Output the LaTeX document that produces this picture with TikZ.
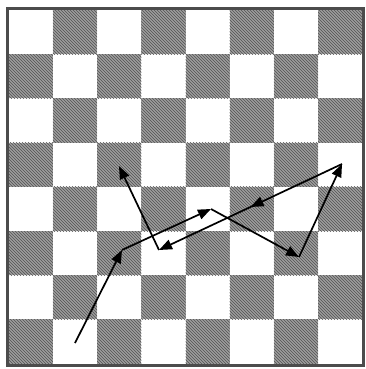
\documentclass[tikz,border=0pt]{standalone}
\usetikzlibrary{arrows.meta, patterns, decorations.markings}
\tikzstyle{dark} = [fill=black!38]
\tikzstyle{move} = [line width=1.7pt, -{Triangle[length=13pt,width=10pt]}]
\tikzstyle{midmove} = [move, postaction={decorate}, decoration={markings,
    mark=at position 0.5 with {\arrow{Triangle[length=13pt,width=10pt]}}}]

\begin{document}
\begin{tikzpicture}[x=1pt, y=-1pt]
        \useasboundingbox (0,0) rectangle (366,369);
        % board squares
        \foreach \c in {0,...,7} {
            \foreach \r in {0,...,7} {
                \pgfmathtruncatemacro{\odd}{mod(\c+\r,2)}
                \ifnum\odd=1
                    \fill[dark] (8.7+44.2*\c,10+44.2*\r) rectangle ++(44.2,44.2);
                    \fill[pattern=north west lines, pattern color=black!68]
                        (8.7+44.2*\c,10+44.2*\r) rectangle ++(44.2,44.2);
                \fi
            }
        }
        % frame
        \draw[line width=3pt, black!70] (7,8.5) rectangle (363.8,365.2);
        % path of the piece
        \coordinate (p0) at (75,343);
        \coordinate (p1) at (122,250);
        \coordinate (p2) at (211,209);
        \coordinate (p3) at (299,257);
        \coordinate (p4) at (342,164);
        \coordinate (p5) at (159,250);
        \coordinate (p6) at (119,166);
        \draw[move] (p0) -- (p1);
        \draw[move] (p1) -- (p2);
        \draw[move] (p2) -- (p3);
        \draw[move] (p3) -- (p4);
        \draw[midmove] (p4) -- (p5);
        \draw[move] (p5) -- (p6);
    \end{tikzpicture}
\end{document}
